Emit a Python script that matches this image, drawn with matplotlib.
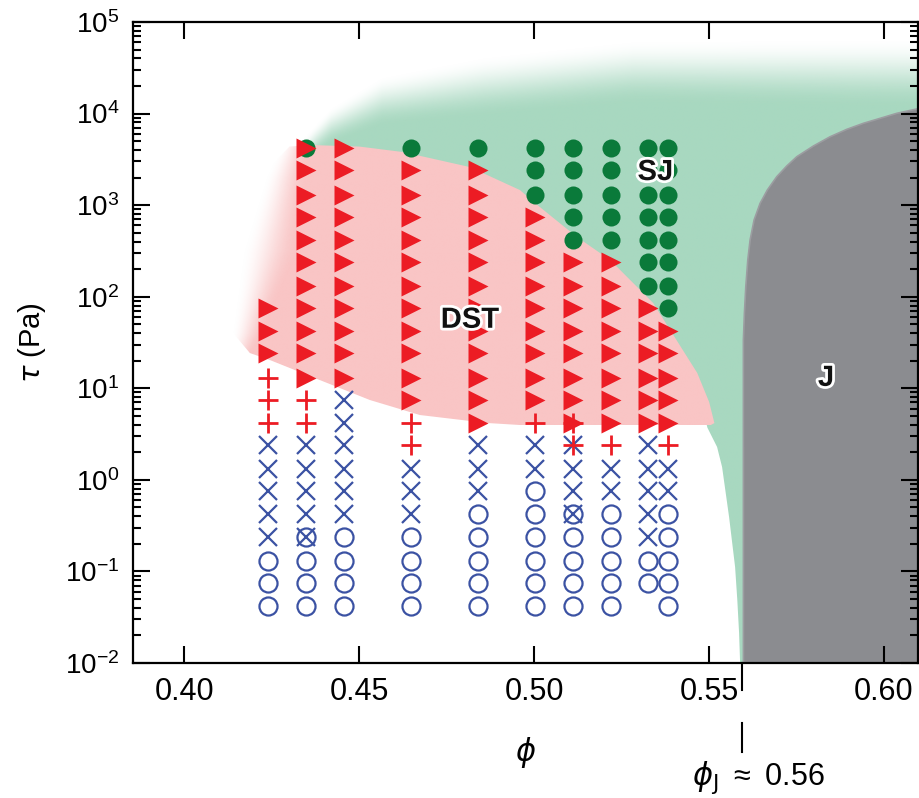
import numpy as np
import matplotlib.pyplot as plt
from matplotlib import patches, patheffects
from matplotlib.transforms import blended_transform_factory
from matplotlib.ticker import LogLocator, NullFormatter

plt.rcParams['font.family'] = ['Liberation Sans', 'DejaVu Sans']
plt.rcParams['mathtext.fontset'] = 'dejavusans'
plt.rcParams['mathtext.default'] = 'regular'

# volume fraction of each measured column
phi_cols = [0.4238, 0.4347, 0.4457, 0.4648, 0.4838, 0.5002, 0.5110, 0.5220, 0.5326, 0.5383]
# imposed stress levels (Pa), lowest first
tau_levels = [0.042, 0.075, 0.13, 0.24, 0.42, 0.75, 1.3, 2.4, 4.2, 7.5, 13,
              24, 42, 75, 130, 240, 420, 750, 1300, 2400, 4200]
# state seen at each stress level, one character per level (lowest first)
# o / x / + / > (DST) / g (SJ); Q = o+x, K = x++, T = >++, G = g+>, . = none
col_states = [
    "oooxxxxx+++>>>.......",
    "oooQxxxx++>>>>>>>>>>G",
    "ooooxxxxxx>>>>>>>>>>>",
    "ooooxxx++>>>>>>>>>>>g",
    "oooooxxx>>>>>>>>>>>>g",
    "ooooooxx+>>>>>>>>>ggg",
    "ooooQxxKT>>>>>>>ggggg",
    "oooooxx+>>>>>>>>ggggg",
    ".ooxxxxx>>>>>>ggggggg",
    "oooooxx+>>>>>gggggggg",
]
combos = {"Q": "ox", "K": "x+", "T": ">+", "G": "g>"}

# region outlines in (phi, log10 tau)
dst_edge_phi = [0.4300, 0.4359, 0.4500, 0.4625, 0.4816, 0.4959, 0.5002, 0.5122, 0.5217, 0.5340, 0.5466, 0.5500, 0.5515]
dst_edge_log = [3.64, 3.657, 3.64, 3.58, 3.416, 3.165, 3.023, 2.652, 2.401, 1.931, 1.167, 0.85, 0.62]
dst_low_phi = [0.5505, 0.4959, 0.4865, 0.4673, 0.4530, 0.4387, 0.4244, 0.4187, 0.4139, 0.4120, 0.4140, 0.4190, 0.4250]
dst_low_log = [0.599, 0.599, 0.621, 0.708, 0.872, 1.090, 1.309, 1.385, 1.604, 1.964, 2.51, 3.056, 3.44]
sj_right_phi = [0.55227, 0.55370, 0.5547, 0.5557, 0.55656, 0.55742, 0.55805, 0.55856, 0.55885]
sj_right_log = [0.359, 0.140, -0.133, -0.406, -0.679, -0.952, -1.312, -1.673, -2.0]
sj_top_phi = [0.428, 0.4347, 0.4419, 0.4565, 0.4854, 0.5286, 0.6007, 0.615]
sj_top_log = [3.45, 3.62, 3.87, 4.14, 4.30, 4.46, 4.45, 4.45]
sj_top_w = [0.12, 0.15, 0.2, 0.27, 0.33, 0.35, 0.38, 0.38]
j_edge_phi = [0.5598, 0.55979, 0.56008, 0.56048, 0.56105, 0.56171, 0.56285, 0.56457, 0.56665, 0.56934,
              0.57220, 0.57506, 0.57981, 0.58458, 0.58936, 0.59411, 0.59888, 0.60366, 0.61032]
j_edge_log = [-2.0, 1.527, 1.819, 2.109, 2.401, 2.620, 2.838, 3.020, 3.166, 3.311,
              3.428, 3.529, 3.646, 3.747, 3.828, 3.894, 3.948, 4.003, 4.058]
phi_j = 0.5594

xmin, xmax = 0.3853, 0.6097

blue = '#3b52a3'
red = '#ec1c24'
dkgreen = '#0a7a3a'
styles = {
    'g': dict(marker='o', ms=13, mfc=dkgreen, mec='none', zorder=3),
    'o': dict(marker='o', ms=13, mfc='none', mec=blue, mew=1.6, zorder=4),
    'x': dict(marker='x', ms=13, mec=blue, mew=1.6, zorder=5),
    '>': dict(marker='>', ms=14, mfc=red, mec='none', zorder=6),
    '+': dict(marker='+', ms=14, mec=red, mew=2.0, zorder=7),
}


def smooth(t):
    t = np.clip(t, 0, 1)
    return t * t * (3 - 2 * t)


def draw_regions(bg):
    nx, ny = 600, 700
    px = np.linspace(xmin, xmax, nx)
    ly = np.linspace(-2, 5, ny)
    P, L = np.meshgrid(px, ly)

    # SJ: green with a soft top edge
    top = np.interp(P, sj_top_phi, sj_top_log)
    w = np.interp(P, sj_top_phi, sj_top_w)
    a = smooth((top + w - L) / (2 * w)) * smooth((P - 0.428) / 0.010)
    img = np.zeros((ny, nx, 4))
    img[..., :3] = np.array([168, 216, 192]) / 255
    img[..., 3] = a
    sj_x = [p - 0.002 for p in dst_edge_phi] + sj_right_phi + [0.62, 0.62, 0.428]
    sj_y = [v - 0.05 for v in dst_edge_log] + sj_right_log + [-2.0, 5.2, 5.2]
    poly = patches.Polygon(np.column_stack([sj_x, sj_y]), closed=True, fc='none', ec='none')
    bg.add_patch(poly)
    im = bg.imshow(img, extent=[xmin, xmax, -2, 5], origin='lower', aspect='auto', zorder=1,
                   interpolation='bilinear')
    im.set_clip_path(poly)

    # DST: pink fading out to the left
    start = np.interp(L, [1.3, 1.6, 2.5, 3.3, 3.7], [0.412, 0.4135, 0.4165, 0.423, 0.428])
    width = np.interp(L, [1.3, 1.6, 2.5, 3.3, 3.7], [0.006, 0.009, 0.016, 0.012, 0.008])
    img2 = np.zeros((ny, nx, 4))
    img2[..., :3] = np.array([249, 197, 197]) / 255
    img2[..., 3] = smooth((P - start) / width)
    dst = patches.Polygon(np.column_stack([dst_edge_phi + dst_low_phi, dst_edge_log + dst_low_log]),
                          closed=True, fc='none', ec='none')
    bg.add_patch(dst)
    im2 = bg.imshow(img2, extent=[xmin, xmax, -2, 5], origin='lower', aspect='auto', zorder=2,
                    interpolation='bilinear')
    im2.set_clip_path(dst)

    # J: jammed, grey
    jx = j_edge_phi + [0.62, 0.62]
    jy = j_edge_log + [4.058, -2.0]
    bg.add_patch(patches.Polygon(np.column_stack([jx, jy]), closed=True, fc='#8b8c90',
                                 ec='#9c9da1', lw=1.2, zorder=3))


def main():
    fig = plt.figure(figsize=(9.2, 7.98), dpi=100)
    pos = [0.1446, 0.1692, 0.8532, 0.8032]
    bg = fig.add_axes(pos, zorder=0)
    bg.set_xlim(xmin, xmax)
    bg.set_ylim(-2, 5)
    bg.axis('off')
    draw_regions(bg)

    ax = fig.add_axes(pos, zorder=1)
    ax.patch.set_alpha(0)
    ax.set_yscale('log')
    ax.set_xlim(xmin, xmax)
    ax.set_ylim(1e-2, 1e5)

    pts = {k: ([], []) for k in styles}
    for phi, states in zip(phi_cols, col_states):
        for tau, c in zip(tau_levels, states):
            for m in combos.get(c, c):
                if m == '.':
                    continue
                pts[m][0].append(phi)
                pts[m][1].append(tau)
    for k, st in styles.items():
        ax.plot(pts[k][0], pts[k][1], ls='none', **st)

    stroke = [patheffects.withStroke(linewidth=4, foreground='white')]
    for txt, x, y in [("SJ", 0.5346, 2300), ("DST", 0.4816, 56), ("J", 0.5834, 13)]:
        ax.text(x, y, txt, fontsize=21, fontweight='bold', ha='center', va='center',
                color='#111111', path_effects=stroke, zorder=8)

    ax.set_xticks([0.40, 0.45, 0.50, 0.55, 0.60])
    ax.set_xticklabels(['0.40', '0.45', '0.50', '0.55', '0.60'])
    ax.yaxis.set_major_locator(LogLocator(base=10, numticks=20))
    ax.yaxis.set_minor_locator(LogLocator(base=10, subs=np.arange(2, 10), numticks=20))
    ax.yaxis.set_minor_formatter(NullFormatter())
    ax.tick_params(which='both', direction='in', top=True, right=True, width=1.5)
    ax.tick_params(which='major', length=12)
    ax.tick_params(which='minor', length=6)
    ax.tick_params(axis='x', labelsize=22, pad=10)
    ax.tick_params(axis='y', labelsize=20, pad=10)
    for s in ax.spines.values():
        s.set_linewidth(1.6)

    ax.set_ylabel(r'$\mathit{\tau}$ (Pa)', fontsize=21, labelpad=12)
    ax.set_xlabel(r'$\mathit{\phi}$', fontsize=22, labelpad=20)

    tr = blended_transform_factory(ax.transData, ax.transAxes)
    ax.plot([phi_j, phi_j], [0, -0.042], transform=tr, clip_on=False, color='k', lw=1.5)
    ax.plot([phi_j, phi_j], [-0.094, -0.139], transform=tr, clip_on=False, color='k', lw=1.5)
    ax.text(0.5451, -0.178, r'$\mathit{\phi}_\mathrm{J}$ $\approx$ 0.56', transform=tr,
            fontsize=22, ha='left', va='center')

    fig.savefig('out.png', dpi=100)


if __name__ == "__main__":
    main()
